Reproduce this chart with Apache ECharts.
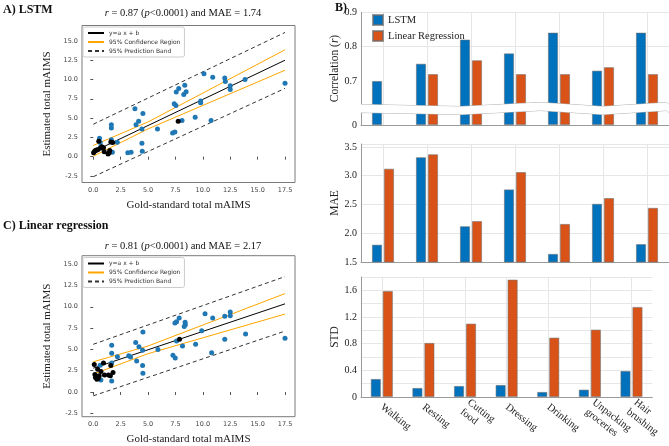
<!DOCTYPE html>
<html>
<head>
<meta charset="utf-8">
<script src="https://cdn.jsdelivr.net/npm/echarts@6.0.0/dist/echarts.min.js"></script>
<style>
html, body { margin: 0; padding: 0; background: #fff; }
#main { width: 669px; height: 446px; }
</style>
</head>
<body>
<div id="main"></div>
<script>
// scatter data, panel A (LSTM)
let lstmBlue = [[0.57,2.37],[0.63,1.85],[0.69,1.3],[1.65,4.15],[1.65,3.72],[1.65,2.2],[1.74,0.56],[2.19,1.86],
    [3.15,0.52],[3.45,0.56],[3.8,6.2],[3.9,4.15],[4.14,4.6],[4.53,5.6],[4.44,3.57],[4.44,1.75],[4.47,0.7],
    [5.86,3.57],[7.24,3.05],[7.45,3.2],[7.39,6.85],[7.54,6.63],[7.57,8.37],[7.8,8.85],[8.26,8.06],[8.35,9.24],
    [8.47,8.4],[8.1,4.7],[9.3,5.1],[9.8,7.2],[9.8,7.0],[10.1,10.75],[10.75,4.7],[10.9,10.3],[12.0,10.2],
    [12.05,9.75],[12.5,9.2],[12.5,8.7],[13.85,10.0],[17.5,9.5]];
let lstmBlack = [[0.03,0.5],[0.1,0.66],[0.2,0.8],[0.3,0.85],[0.4,0.9],[0.5,2.0],[0.63,1.1],[0.78,1.3],
    [0.93,1.15],[1.0,0.65],[1.35,0.36],[1.45,0.5],[1.5,0.8],[1.6,1.9],[1.77,1.85],[7.75,4.6]];
let lstmFit = [[0,0.65],[17.5,12.5]];
let lstmConfUp = [[0,1.45],[5,4.5],[17.5,13.85]];
let lstmConfLo = [[0,0.05],[5,3.6],[17.5,11.2]];
let lstmPredUp = [[0,4.2],[17.5,16.1]];
let lstmPredLo = [[0,-2.6],[17.5,8.85]];

// scatter data, panel C (linear regression)
let lrBlue = [[0.63,3.15],[0.69,1.4],[1.68,5.5],[1.68,4.55],[1.68,3.4],[1.68,1.3],[2.2,4.15],[3.24,4.25],
    [3.4,4.1],[3.87,5.8],[3.96,3.63],[4.17,5.3],[4.5,4.9],[4.53,7.05],[4.5,3.1],[4.53,2.2],[5.9,5.0],
    [7.27,4.3],[7.48,4.0],[7.45,8.1],[7.6,8.25],[7.84,8.7],[7.6,6.0],[8.14,5.4],[8.38,8.2],[8.4,7.9],
    [8.3,7.7],[9.34,5.6],[9.9,7.2],[10.2,9.2],[10.8,4.6],[10.9,8.7],[12.0,8.9],[12.0,6.2],[12.5,9.4],
    [12.5,8.95],[13.9,6.8],[17.5,6.3]];
let lrBlack = [[0.09,3.23],[0.15,2.06],[0.2,1.7],[0.33,1.5],[0.45,1.58],[0.4,2.67],[0.54,1.9],[0.7,2.4],
    [0.93,3.4],[1.02,2.0],[1.38,2.0],[1.56,1.9],[1.6,3.1],[1.8,2.3],[7.87,6.2]];
let lrFit = [[0,2.8],[17.5,10.35]];
let lrConfUp = [[0,3.55],[5,5.4],[17.5,11.55]];
let lrConfLo = [[0,2.1],[5,4.5],[17.5,9.15]];
let lrPredUp = [[0,5.6],[17.5,13.55]];
let lrPredLo = [[0,-0.45],[17.5,7.15]];

let xTicks = [0,2.5,5,7.5,10,12.5,15,17.5];
let yTicks = [-2.5,0,2.5,5,7.5,10,12.5,15];

// panel B
let activities = ['Walking','Resting','Cutting\nfood','Dressing','Drinking','Unpacking\ngroceries','Hair\nbrushing'];
let corrLSTM = [0.70,0.75,0.82,0.78,0.84,0.73,0.84];
let corrLR = [null,0.72,0.76,0.72,0.72,0.74,0.72];
let maeLSTM = [1.80,3.32,2.12,2.76,1.64,2.51,1.81];
let maeLR = [3.12,3.37,2.21,3.06,2.16,2.61,2.44];
let stdLSTM = [0.27,0.135,0.165,0.18,0.075,0.11,0.39];
let stdLR = [1.59,0.81,1.10,1.76,0.89,1.01,1.35];
let corrTicks = [0,0.7,0.8,0.9];

const serif = 'Liberation Serif';
const sans = 'DejaVu Sans';
const blueDot = '#1f77b4';
const lstmColor = '#0072BD';
const lrColor = '#D95319';

function scatterX(idx) {
    return {
        gridIndex: idx, type: 'value', min: -1.03, max: 18.41,
        name: 'Gold-standard total mAIMS', nameLocation: 'middle', nameGap: 17,
        nameTextStyle: {fontFamily: serif, fontSize: 11, color: '#222'},
        axisLine: {show: false}, splitLine: {show: false},
        axisTick: {show: true, length: 3, lineStyle: {color: '#555'}, customValues: xTicks},
        axisLabel: {fontFamily: sans, fontSize: 6.5, color: '#444', margin: 4,
            customValues: xTicks, formatter: v => v.toFixed(1)}
    };
}
function scatterY(idx, min, max) {
    return {
        gridIndex: idx, type: 'value', min: min, max: max,
        name: 'Estimated total mAIMS', nameLocation: 'middle', nameGap: 29,
        nameTextStyle: {fontFamily: serif, fontSize: 11, color: '#222'},
        axisLine: {show: false}, splitLine: {show: false},
        axisTick: {show: true, length: 3, lineStyle: {color: '#555'}, customValues: yTicks},
        axisLabel: {fontFamily: sans, fontSize: 6.5, color: '#444', margin: 4,
            customValues: yTicks, formatter: v => v.toFixed(1)}
    };
}
function lineSeries(name, idx, data, color, type) {
    return {
        name: name, type: 'line', xAxisIndex: idx, yAxisIndex: idx, data: data,
        symbol: 'none', silent: true, z: 3,
        lineStyle: {color: color, width: 1, type: type || 'solid'},
        itemStyle: {color: color}
    };
}
function scatterSeries(name, idx, data, color) {
    return {
        name: name, type: 'scatter', xAxisIndex: idx, yAxisIndex: idx, data: data,
        symbolSize: 5, itemStyle: {color: color, opacity: 1}, z: 4
    };
}
function scatterLegend(top) {
    return {
        left: 83, top: top, orient: 'vertical', itemWidth: 16, itemHeight: 6, itemGap: 3,
        padding: [3, 4], borderColor: '#ccc', borderWidth: 1, borderRadius: 2, backgroundColor: '#fff',
        textStyle: {fontFamily: sans, fontSize: 6, color: '#333'},
        itemStyle: {opacity: 0},
        data: ['y=a x + b', '95% Confidence Region', '95% Prediction Band'],
        selectedMode: false
    };
}
function catAxis(idx, showLabel) {
    return {
        gridIndex: idx, type: 'category', data: activities,
        axisLine: {show: true, lineStyle: {color: '#9a9a9a'}},
        axisTick: {show: false},
        splitLine: {show: true, alignWithLabel: true, lineStyle: {color: '#e6e6e6'}},
        axisLabel: {show: showLabel, interval: 0, rotate: -38, margin: 9,
            fontFamily: serif, fontSize: 10.5, color: '#222', lineHeight: 12}
    };
}
function barY(idx, name, extra) {
    return Object.assign({
        gridIndex: idx, type: 'value', name: name, nameLocation: 'middle', nameGap: 12,
        nameTextStyle: {fontFamily: serif, fontSize: 11.5, color: '#222',
            rich: {n: {fontFamily: serif, fontSize: 11.5, color: '#222'},
                   i: {fontFamily: serif, fontSize: 11.5, color: '#222', fontStyle: 'italic'}}},
        axisLine: {show: true, lineStyle: {color: '#9a9a9a'}},
        axisTick: {show: false},
        splitLine: {show: true, lineStyle: {color: '#e6e6e6'}},
        axisLabel: {fontFamily: serif, fontSize: 10, color: '#222', margin: 4}
    }, extra);
}
function barSeries(name, idx, data, color) {
    return {
        name: name, type: 'bar', xAxisIndex: idx, yAxisIndex: idx, data: data,
        barWidth: 10, barGap: '20%',
        itemStyle: {color: color, borderColor: 'rgba(110,110,110,0.7)', borderWidth: 0.8}
    };
}

let myChart = echarts.init(document.getElementById('main'));
let option = {
    backgroundColor: '#fff',
    animation: false,
    grid: [
        {left: 82, top: 25.5, width: 213, height: 157, show: true, borderColor: '#7a7a7a', borderWidth: 1, backgroundColor: 'transparent'},
        {left: 82, top: 255.7, width: 213, height: 161, show: true, borderColor: '#7a7a7a', borderWidth: 1, backgroundColor: 'transparent'},
        {left: 361, top: 12, width: 308, height: 113},
        {left: 361, top: 144, width: 308, height: 118},
        {left: 361, top: 277, width: 308, height: 120}
    ],
    xAxis: [scatterX(0), scatterX(1), catAxis(2, false), catAxis(3, false), catAxis(4, true)],
    yAxis: [
        scatterY(0, -3.35, 17.0),
        scatterY(1, -2.9, 16.0),
        barY(2, '{n|Correlation (}{i|r}{n|)}', {
            min: 0, max: 0.9, interval: 0.1,
            breaks: [{start: 0.038, end: 0.632, gap: '6.5%'}],
            breakArea: {show: true, zigzagAmplitude: 2, zigzagMinSpan: 60, zigzagMaxSpan: 120, zigzagZ: 100,
                itemStyle: {color: '#fff', borderColor: '#b0b0b0', borderWidth: 1, borderType: 'solid', opacity: 1}},
            splitLine: {show: true, lineStyle: {color: '#e6e6e6'}},
            axisLabel: {fontFamily: serif, fontSize: 10, color: '#222', margin: 4,
                customValues: corrTicks,
                formatter: v => (v === 0 ? '0' : v.toFixed(1))}
        }),
        barY(3, 'MAE', {min: 1.5, max: 3.55, interval: 0.5,
            axisLabel: {fontFamily: serif, fontSize: 10, color: '#222', margin: 4, formatter: v => v.toFixed(1)}}),
        barY(4, 'STD', {min: 0, max: 1.8, interval: 0.2,
            axisLabel: {fontFamily: serif, fontSize: 10, color: '#222', margin: 4,
                formatter: v => {
                    let k = Math.round(v * 10);
                    return k % 4 === 0 ? (k === 0 ? '0' : (k / 10).toFixed(1)) : '';
                }}})
    ],
    legend: [
        scatterLegend(27),
        scatterLegend(257.5),
        {
            left: 367, top: 9, orient: 'vertical', icon: 'rect', itemWidth: 10, itemHeight: 10, itemGap: 4,
            textStyle: {fontFamily: serif, fontSize: 10.5, color: '#222'},
            data: ['LSTM', 'Linear Regression'], selectedMode: false
        }
    ],
    graphic: [
        {type: 'text', left: 3, top: 4, style: {text: 'A) LSTM', font: 'bold 12px "Liberation Serif"', fill: '#111'}},
        {type: 'text', left: 3, top: 220, style: {text: 'C) Linear regression', font: 'bold 12px "Liberation Serif"', fill: '#111'}},
        {type: 'text', left: 335, top: 2, style: {text: 'B)', font: 'bold 12px "Liberation Serif"', fill: '#111'}},
        {type: 'text', x: 183, y: 13, style: {
            text: '{i|r} = 0.87 ({i|p}<0.0001) and MAE = 1.74', align: 'center', verticalAlign: 'middle',
            font: '10.5px "Liberation Serif"', fill: '#111',
            rich: {i: {fontStyle: 'italic', fontFamily: serif, fontSize: 10.5}}}},
        {type: 'text', x: 183, y: 246, style: {
            text: '{i|r} = 0.81 ({i|p}<0.0001) and MAE = 2.17', align: 'center', verticalAlign: 'middle',
            font: '10.5px "Liberation Serif"', fill: '#111',
            rich: {i: {fontStyle: 'italic', fontFamily: serif, fontSize: 10.5}}}}
    ],
    series: [
        scatterSeries('lstm', 0, lstmBlue, blueDot),
        scatterSeries('lstm-black', 0, lstmBlack, '#000'),
        lineSeries('y=a x + b', 0, lstmFit, '#000'),
        lineSeries('95% Confidence Region', 0, lstmConfUp, '#FFA500'),
        lineSeries('95% Confidence Region', 0, lstmConfLo, '#FFA500'),
        lineSeries('95% Prediction Band', 0, lstmPredUp, '#333', [4, 3]),
        lineSeries('95% Prediction Band', 0, lstmPredLo, '#333', [4, 3]),

        scatterSeries('lr', 1, lrBlue, blueDot),
        scatterSeries('lr-black', 1, lrBlack, '#000'),
        lineSeries('y=a x + b', 1, lrFit, '#000'),
        lineSeries('95% Confidence Region', 1, lrConfUp, '#FFA500'),
        lineSeries('95% Confidence Region', 1, lrConfLo, '#FFA500'),
        lineSeries('95% Prediction Band', 1, lrPredUp, '#333', [4, 3]),
        lineSeries('95% Prediction Band', 1, lrPredLo, '#333', [4, 3]),

        barSeries('LSTM', 2, corrLSTM, lstmColor),
        barSeries('Linear Regression', 2, corrLR, lrColor),
        barSeries('LSTM', 3, maeLSTM, lstmColor),
        barSeries('Linear Regression', 3, maeLR, lrColor),
        barSeries('LSTM', 4, stdLSTM, lstmColor),
        barSeries('Linear Regression', 4, stdLR, lrColor)
    ]
};
myChart.setOption(option);
</script>
</body>
</html>
